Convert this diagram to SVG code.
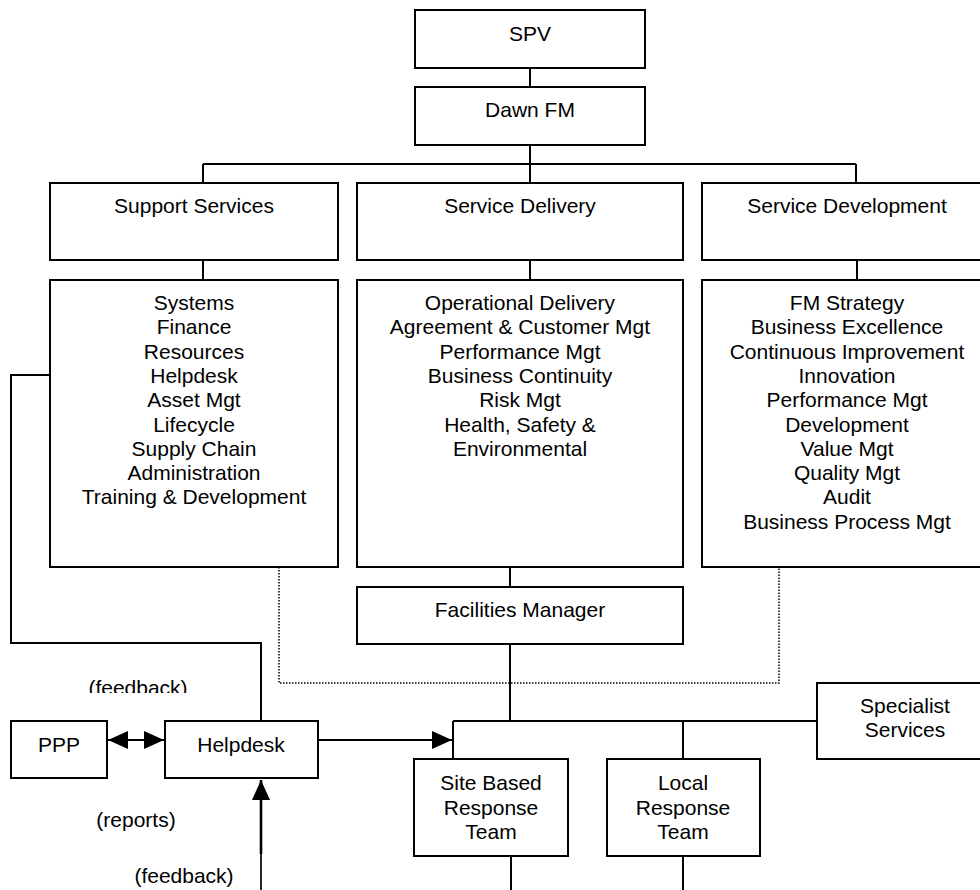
<svg xmlns="http://www.w3.org/2000/svg" width="980" height="890" viewBox="0 0 980 890">
<style>
.box{fill:#fff;stroke:#000;stroke-width:2}
.ln{fill:none;stroke:#000;stroke-width:2}
.dot{fill:none;stroke:#000;stroke-width:1.5;stroke-dasharray:1.5 1.5}
text{font-family:"Liberation Sans",Arial,sans-serif;font-size:21px;fill:#000;text-anchor:middle}
</style>
<defs>
<marker id="ah" viewBox="0 0 20 18" refX="20" refY="9" markerWidth="20" markerHeight="18" markerUnits="userSpaceOnUse" orient="auto-start-reverse">
<path d="M0,0 L20,9 L0,18 Z" fill="#000"/>
</marker>
<clipPath id="clipfb"><rect x="0" y="660" width="250" height="33"/></clipPath>
</defs>
<rect width="980" height="890" fill="#fff"/>
<g id="connectors">
<path class="ln" d="M530,68 V87"/>
<path class="ln" d="M530,145 V164 M203,164 H856 M203,164 V183 M530,164 V183 M856,164 V183"/>
<path class="ln" d="M203,260 V280 M530,260 V280 M857,260 V280"/>
<path class="ln" d="M510,567 V587"/>
<path class="dot" d="M279,567 V683 H779 V567"/>
<path class="ln" d="M50,375 H11 V643 H261 V721"/>
<path class="ln" d="M510,644 V721 M453,721 H817 M453,721 V759 M683,721 V759"/>
<path class="ln" d="M511,856 V890 M683,856 V890"/>
<path class="ln" d="M108,740 H164" marker-start="url(#ah)" marker-end="url(#ah)"/>
<path class="ln" d="M318,740 H452" marker-end="url(#ah)"/>
<path fill="none" stroke="#000" stroke-width="2.6" d="M261,854 V780" marker-end="url(#ah)"/>
<path fill="none" stroke="#000" stroke-width="1.7" d="M261,854 V890"/>
</g>
<g id="spv"><rect class="box" x="415" y="10" width="230" height="58"/><text x="530" y="41">SPV</text></g>
<g id="dawnfm"><rect class="box" x="415" y="87" width="230" height="58"/><text x="530" y="117">Dawn FM</text></g>
<g id="support-services"><rect class="box" x="50" y="183" width="288" height="77"/><text x="194" y="213">Support Services</text></g>
<g id="service-delivery"><rect class="box" x="357" y="183" width="326" height="77"/><text x="520" y="213">Service Delivery</text></g>
<g id="service-development"><rect class="box" x="702" y="183" width="290" height="77"/><text x="847" y="213">Service Development</text></g>
<g id="support-list"><rect class="box" x="50" y="280" width="288" height="287"/>
<text x="194" y="310">Systems</text>
<text x="194" y="334.3">Finance</text>
<text x="194" y="358.6">Resources</text>
<text x="194" y="382.9">Helpdesk</text>
<text x="194" y="407.2">Asset Mgt</text>
<text x="194" y="431.5">Lifecycle</text>
<text x="194" y="455.8">Supply Chain</text>
<text x="194" y="480.1">Administration</text>
<text x="194" y="504.4">Training &amp; Development</text>
</g>
<g id="delivery-list"><rect class="box" x="357" y="280" width="326" height="287"/>
<text x="520" y="310">Operational Delivery</text>
<text x="520" y="334.3">Agreement &amp; Customer Mgt</text>
<text x="520" y="358.6">Performance Mgt</text>
<text x="520" y="382.9">Business Continuity</text>
<text x="520" y="407.2">Risk Mgt</text>
<text x="520" y="431.5">Health, Safety &amp;</text>
<text x="520" y="455.8">Environmental</text>
</g>
<g id="development-list"><rect class="box" x="702" y="280" width="290" height="287"/>
<text x="847" y="310">FM Strategy</text>
<text x="847" y="334.3">Business Excellence</text>
<text x="847" y="358.6">Continuous Improvement</text>
<text x="847" y="382.9">Innovation</text>
<text x="847" y="407.2">Performance Mgt</text>
<text x="847" y="431.5">Development</text>
<text x="847" y="455.8">Value Mgt</text>
<text x="847" y="480.1">Quality Mgt</text>
<text x="847" y="504.4">Audit</text>
<text x="847" y="528.7">Business Process Mgt</text>
</g>
<g id="facilities-manager"><rect class="box" x="357" y="587" width="326" height="57"/><text x="520" y="617">Facilities Manager</text></g>
<g id="ppp"><rect class="box" x="11" y="721" width="96" height="57"/><text x="59" y="752">PPP</text></g>
<g id="helpdesk"><rect class="box" x="165" y="721" width="153" height="57"/><text x="241" y="752">Helpdesk</text></g>
<g id="site-based"><rect class="box" x="414" y="759" width="154" height="97"/>
<text x="491" y="790">Site Based</text><text x="491" y="814.5">Response</text><text x="491" y="839">Team</text></g>
<g id="local-response"><rect class="box" x="607" y="759" width="153" height="97"/>
<text x="683" y="790">Local</text><text x="683" y="814.5">Response</text><text x="683" y="839">Team</text></g>
<g id="specialist"><rect class="box" x="817" y="683" width="176" height="76"/>
<text x="905" y="713">Specialist</text><text x="905" y="737">Services</text></g>
<g id="labels">
<text x="138" y="695" clip-path="url(#clipfb)">(feedback)</text>
<text x="136" y="827">(reports)</text>
<text x="184" y="883">(feedback)</text>
</g>
</svg>
